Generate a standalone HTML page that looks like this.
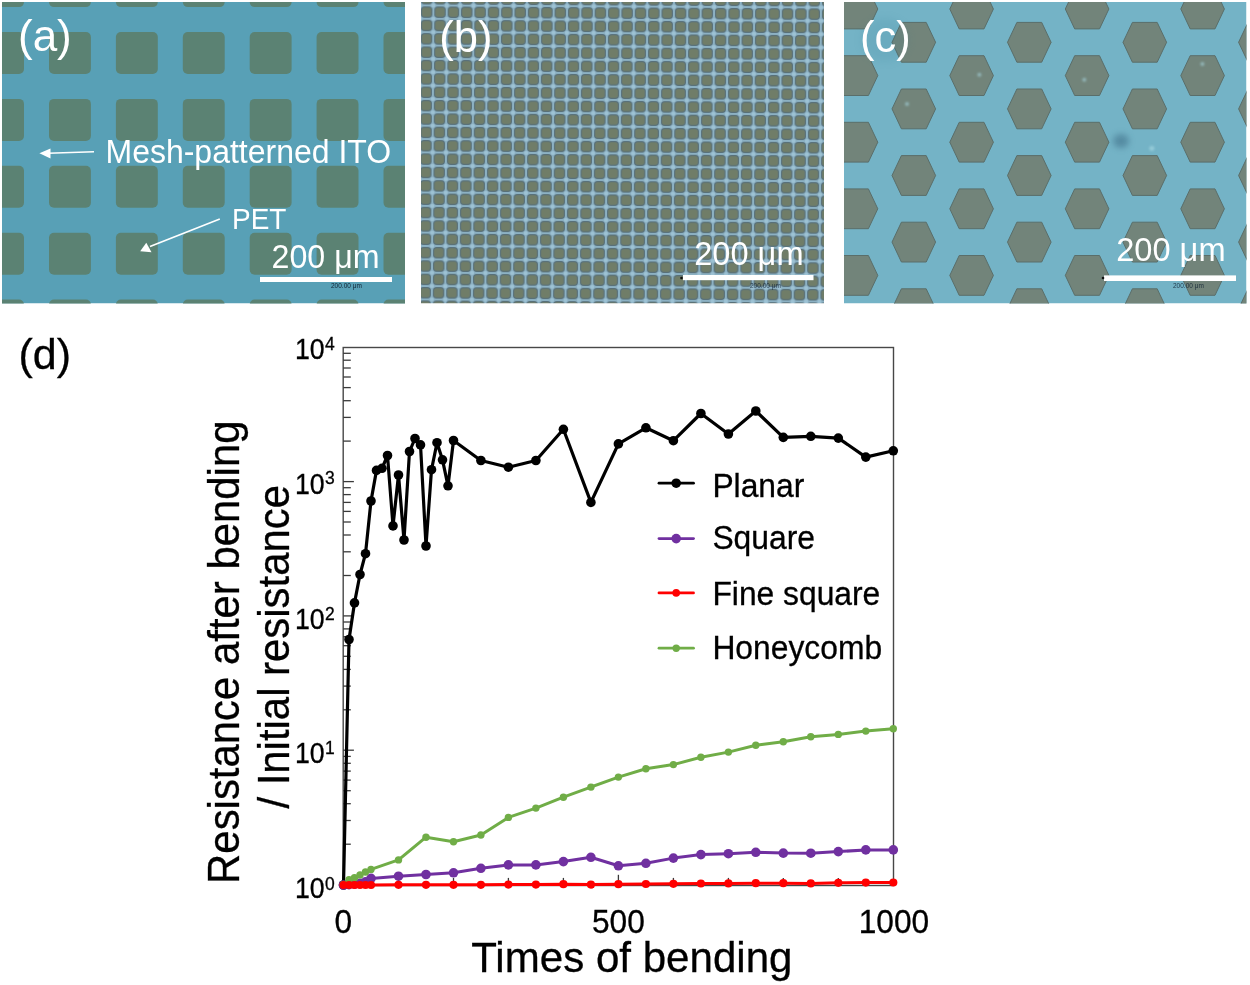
<!DOCTYPE html>
<html><head><meta charset="utf-8"><style>
html,body{margin:0;padding:0;background:#fff;}
svg{display:block;will-change:transform;font-family:"Liberation Sans",sans-serif;}
</style></head><body>
<svg width="1250" height="985" viewBox="0 0 1250 985">
<defs>
<clipPath id="ca"><rect x="2" y="2" width="403" height="301.5"/></clipPath>
<clipPath id="cb"><rect x="421" y="2" width="403" height="301.5"/></clipPath>
<clipPath id="cc"><rect x="844" y="2" width="402.5" height="301.5"/></clipPath>
<pattern id="pb" x="0" y="0" width="13.365" height="13.365" patternUnits="userSpaceOnUse" patternTransform="translate(433.4 5.45) rotate(0.3)">
<rect width="13.365" height="13.365" fill="#8cb1c3"/>
<circle cx="0" cy="0" r="2.0" fill="#9dc2d4"/><circle cx="13.365" cy="0" r="2.0" fill="#9dc2d4"/><circle cx="0" cy="13.365" r="2.0" fill="#9dc2d4"/><circle cx="13.365" cy="13.365" r="2.0" fill="#9dc2d4"/>
<rect x="1.0" y="1.0" width="11.365" height="11.365" rx="3.6" fill="#587079"/>
<rect x="2.1" y="2.1" width="9.165" height="9.165" rx="2.6" fill="#707d68"/>
</pattern>
<filter id="bl" x="-50%" y="-50%" width="200%" height="200%"><feGaussianBlur stdDeviation="4"/></filter>
<filter id="bl2" x="-100%" y="-100%" width="300%" height="300%"><feGaussianBlur stdDeviation="3"/></filter><filter id="bl3" x="-100%" y="-100%" width="300%" height="300%"><feGaussianBlur stdDeviation="0.8"/></filter>
</defs>
<!-- panel a -->
<g clip-path="url(#ca)">
<rect x="2" y="2" width="403" height="301.5" fill="#58a0b6"/>
<g fill="#5b8273"><rect x="-17.9" y="-34.9" width="41.9" height="42" rx="5"/><rect x="-17.9" y="32.0" width="41.9" height="42" rx="5"/><rect x="-17.9" y="98.9" width="41.9" height="42" rx="5"/><rect x="-17.9" y="165.8" width="41.9" height="42" rx="5"/><rect x="-17.9" y="232.7" width="41.9" height="42" rx="5"/><rect x="-17.9" y="299.6" width="41.9" height="42" rx="5"/><rect x="49.0" y="-34.9" width="41.9" height="42" rx="5"/><rect x="49.0" y="32.0" width="41.9" height="42" rx="5"/><rect x="49.0" y="98.9" width="41.9" height="42" rx="5"/><rect x="49.0" y="165.8" width="41.9" height="42" rx="5"/><rect x="49.0" y="232.7" width="41.9" height="42" rx="5"/><rect x="49.0" y="299.6" width="41.9" height="42" rx="5"/><rect x="115.9" y="-34.9" width="41.9" height="42" rx="5"/><rect x="115.9" y="32.0" width="41.9" height="42" rx="5"/><rect x="115.9" y="98.9" width="41.9" height="42" rx="5"/><rect x="115.9" y="165.8" width="41.9" height="42" rx="5"/><rect x="115.9" y="232.7" width="41.9" height="42" rx="5"/><rect x="115.9" y="299.6" width="41.9" height="42" rx="5"/><rect x="182.8" y="-34.9" width="41.9" height="42" rx="5"/><rect x="182.8" y="32.0" width="41.9" height="42" rx="5"/><rect x="182.8" y="98.9" width="41.9" height="42" rx="5"/><rect x="182.8" y="165.8" width="41.9" height="42" rx="5"/><rect x="182.8" y="232.7" width="41.9" height="42" rx="5"/><rect x="182.8" y="299.6" width="41.9" height="42" rx="5"/><rect x="249.7" y="-34.9" width="41.9" height="42" rx="5"/><rect x="249.7" y="32.0" width="41.9" height="42" rx="5"/><rect x="249.7" y="98.9" width="41.9" height="42" rx="5"/><rect x="249.7" y="165.8" width="41.9" height="42" rx="5"/><rect x="249.7" y="232.7" width="41.9" height="42" rx="5"/><rect x="249.7" y="299.6" width="41.9" height="42" rx="5"/><rect x="316.6" y="-34.9" width="41.9" height="42" rx="5"/><rect x="316.6" y="32.0" width="41.9" height="42" rx="5"/><rect x="316.6" y="98.9" width="41.9" height="42" rx="5"/><rect x="316.6" y="165.8" width="41.9" height="42" rx="5"/><rect x="316.6" y="232.7" width="41.9" height="42" rx="5"/><rect x="316.6" y="299.6" width="41.9" height="42" rx="5"/><rect x="383.5" y="-34.9" width="41.9" height="42" rx="5"/><rect x="383.5" y="32.0" width="41.9" height="42" rx="5"/><rect x="383.5" y="98.9" width="41.9" height="42" rx="5"/><rect x="383.5" y="165.8" width="41.9" height="42" rx="5"/><rect x="383.5" y="232.7" width="41.9" height="42" rx="5"/><rect x="383.5" y="299.6" width="41.9" height="42" rx="5"/></g>
<g fill="#fff">
<text transform="translate(18,51.2)" font-size="44">(a)</text>
<text transform="translate(105.5,162.6) scale(1,1.03)" font-size="32">Mesh-patterned ITO</text>
<text transform="translate(232,228.8) scale(1,1.03)" font-size="28">PET</text>
<text transform="translate(271.5,268) scale(1,1.03)" font-size="32.2">200 μm</text>
</g>
<line x1="94" y1="151.8" x2="48" y2="153.2" stroke="#fff" stroke-width="1.6"/>
<polygon points="39.4,153.3 50.5,148.6 50.5,158.6" fill="#fff"/>
<line x1="219.8" y1="219" x2="150" y2="246.5" stroke="#fff" stroke-width="1.6"/>
<polygon points="140.2,251.2 146.3,242.8 151.5,252.2" fill="#fff"/>
<rect x="260" y="277" width="132" height="5" fill="#fff"/>
<text x="331" y="288" font-size="6.5" fill="#123">200.00 μm</text>
</g>
<!-- panel b -->
<g clip-path="url(#cb)">
<rect x="421" y="2" width="403" height="301.5" fill="url(#pb)"/>
<g fill="#fff">
<text transform="translate(439.2,51.5)" font-size="43.5">(b)</text>
<text transform="translate(694.2,265.2) scale(1,1.03)" font-size="32.6">200 μm</text>
</g>
<rect x="683" y="275" width="130.5" height="5.2" fill="#fff"/>
<text x="750" y="287.5" font-size="6.5" fill="#123" opacity="0.8">200.00 μm</text><circle cx="681.5" cy="278" r="1.3" fill="#111"/>
</g>
<!-- panel c -->
<g clip-path="url(#cc)">
<rect x="844" y="2" width="402.5" height="301.5" fill="#74b3c6"/>
<g fill="#72847a" stroke="#5a6e6a" stroke-width="1" stroke-linejoin="round"><polygon points="834.2,9.0 843.6,-10.9 868.4,-10.9 877.8,9.0 868.4,28.9 843.6,28.9"/><polygon points="834.2,75.6 843.6,55.7 868.4,55.7 877.8,75.6 868.4,95.5 843.6,95.5"/><polygon points="834.2,142.2 843.6,122.3 868.4,122.3 877.8,142.2 868.4,162.1 843.6,162.1"/><polygon points="834.2,208.8 843.6,188.9 868.4,188.9 877.8,208.8 868.4,228.7 843.6,228.7"/><polygon points="834.2,275.4 843.6,255.5 868.4,255.5 877.8,275.4 868.4,295.3 843.6,295.3"/><polygon points="834.2,342.0 843.6,322.1 868.4,322.1 877.8,342.0 868.4,361.9 843.6,361.9"/><polygon points="892.0,-24.3 901.4,-44.2 926.2,-44.2 935.6,-24.3 926.2,-4.4 901.4,-4.4"/><polygon points="892.0,42.3 901.4,22.4 926.2,22.4 935.6,42.3 926.2,62.2 901.4,62.2"/><polygon points="892.0,108.9 901.4,89.0 926.2,89.0 935.6,108.9 926.2,128.8 901.4,128.8"/><polygon points="892.0,175.5 901.4,155.6 926.2,155.6 935.6,175.5 926.2,195.4 901.4,195.4"/><polygon points="892.0,242.1 901.4,222.2 926.2,222.2 935.6,242.1 926.2,262.0 901.4,262.0"/><polygon points="892.0,308.7 901.4,288.8 926.2,288.8 935.6,308.7 926.2,328.6 901.4,328.6"/><polygon points="949.8,9.0 959.2,-10.9 984.0,-10.9 993.4,9.0 984.0,28.9 959.2,28.9"/><polygon points="949.8,75.6 959.2,55.7 984.0,55.7 993.4,75.6 984.0,95.5 959.2,95.5"/><polygon points="949.8,142.2 959.2,122.3 984.0,122.3 993.4,142.2 984.0,162.1 959.2,162.1"/><polygon points="949.8,208.8 959.2,188.9 984.0,188.9 993.4,208.8 984.0,228.7 959.2,228.7"/><polygon points="949.8,275.4 959.2,255.5 984.0,255.5 993.4,275.4 984.0,295.3 959.2,295.3"/><polygon points="949.8,342.0 959.2,322.1 984.0,322.1 993.4,342.0 984.0,361.9 959.2,361.9"/><polygon points="1007.5,-24.3 1016.9,-44.2 1041.7,-44.2 1051.1,-24.3 1041.7,-4.4 1016.9,-4.4"/><polygon points="1007.5,42.3 1016.9,22.4 1041.7,22.4 1051.1,42.3 1041.7,62.2 1016.9,62.2"/><polygon points="1007.5,108.9 1016.9,89.0 1041.7,89.0 1051.1,108.9 1041.7,128.8 1016.9,128.8"/><polygon points="1007.5,175.5 1016.9,155.6 1041.7,155.6 1051.1,175.5 1041.7,195.4 1016.9,195.4"/><polygon points="1007.5,242.1 1016.9,222.2 1041.7,222.2 1051.1,242.1 1041.7,262.0 1016.9,262.0"/><polygon points="1007.5,308.7 1016.9,288.8 1041.7,288.8 1051.1,308.7 1041.7,328.6 1016.9,328.6"/><polygon points="1065.3,9.0 1074.7,-10.9 1099.5,-10.9 1108.9,9.0 1099.5,28.9 1074.7,28.9"/><polygon points="1065.3,75.6 1074.7,55.7 1099.5,55.7 1108.9,75.6 1099.5,95.5 1074.7,95.5"/><polygon points="1065.3,142.2 1074.7,122.3 1099.5,122.3 1108.9,142.2 1099.5,162.1 1074.7,162.1"/><polygon points="1065.3,208.8 1074.7,188.9 1099.5,188.9 1108.9,208.8 1099.5,228.7 1074.7,228.7"/><polygon points="1065.3,275.4 1074.7,255.5 1099.5,255.5 1108.9,275.4 1099.5,295.3 1074.7,295.3"/><polygon points="1065.3,342.0 1074.7,322.1 1099.5,322.1 1108.9,342.0 1099.5,361.9 1074.7,361.9"/><polygon points="1123.0,-24.3 1132.4,-44.2 1157.2,-44.2 1166.6,-24.3 1157.2,-4.4 1132.4,-4.4"/><polygon points="1123.0,42.3 1132.4,22.4 1157.2,22.4 1166.6,42.3 1157.2,62.2 1132.4,62.2"/><polygon points="1123.0,108.9 1132.4,89.0 1157.2,89.0 1166.6,108.9 1157.2,128.8 1132.4,128.8"/><polygon points="1123.0,175.5 1132.4,155.6 1157.2,155.6 1166.6,175.5 1157.2,195.4 1132.4,195.4"/><polygon points="1123.0,242.1 1132.4,222.2 1157.2,222.2 1166.6,242.1 1157.2,262.0 1132.4,262.0"/><polygon points="1123.0,308.7 1132.4,288.8 1157.2,288.8 1166.6,308.7 1157.2,328.6 1132.4,328.6"/><polygon points="1180.8,9.0 1190.2,-10.9 1215.0,-10.9 1224.4,9.0 1215.0,28.9 1190.2,28.9"/><polygon points="1180.8,75.6 1190.2,55.7 1215.0,55.7 1224.4,75.6 1215.0,95.5 1190.2,95.5"/><polygon points="1180.8,142.2 1190.2,122.3 1215.0,122.3 1224.4,142.2 1215.0,162.1 1190.2,162.1"/><polygon points="1180.8,208.8 1190.2,188.9 1215.0,188.9 1224.4,208.8 1215.0,228.7 1190.2,228.7"/><polygon points="1180.8,275.4 1190.2,255.5 1215.0,255.5 1224.4,275.4 1215.0,295.3 1190.2,295.3"/><polygon points="1180.8,342.0 1190.2,322.1 1215.0,322.1 1224.4,342.0 1215.0,361.9 1190.2,361.9"/><polygon points="1238.6,-24.3 1248.0,-44.2 1272.8,-44.2 1282.2,-24.3 1272.8,-4.4 1248.0,-4.4"/><polygon points="1238.6,42.3 1248.0,22.4 1272.8,22.4 1282.2,42.3 1272.8,62.2 1248.0,62.2"/><polygon points="1238.6,108.9 1248.0,89.0 1272.8,89.0 1282.2,108.9 1272.8,128.8 1248.0,128.8"/><polygon points="1238.6,175.5 1248.0,155.6 1272.8,155.6 1282.2,175.5 1272.8,195.4 1248.0,195.4"/><polygon points="1238.6,242.1 1248.0,222.2 1272.8,222.2 1282.2,242.1 1272.8,262.0 1248.0,262.0"/><polygon points="1238.6,308.7 1248.0,288.8 1272.8,288.8 1282.2,308.7 1272.8,328.6 1248.0,328.6"/></g>
<ellipse cx="885" cy="40" rx="24" ry="22" fill="#2f7890" opacity="0.12" filter="url(#bl)"/>
<ellipse cx="1121" cy="141" rx="8" ry="7" fill="#3a6a84" opacity="0.55" filter="url(#bl2)"/>
<g fill="#a8d8e2" opacity="0.6" filter="url(#bl3)"><circle cx="1151.8" cy="148.3" r="2.6"/><circle cx="907" cy="104" r="2"/><circle cx="979.4" cy="74.8" r="2"/><circle cx="1084.3" cy="79.7" r="2"/><circle cx="1202.4" cy="64" r="2"/></g>
<g fill="#fff">
<text transform="translate(860.1,51.6)" font-size="43.5">(c)</text>
<text transform="translate(1116.2,261.4) scale(1,1.03)" font-size="32.6">200 μm</text>
</g>
<rect x="1104" y="275.4" width="132" height="5.6" fill="#fff"/>
<text x="1173" y="287.5" font-size="6.5" fill="#123" opacity="0.85">200.00 μm</text><circle cx="1103" cy="278" r="1.3" fill="#111"/>
</g>
<!-- chart -->
<g fill="#000" stroke="#000" stroke-width="0.3">
<text transform="translate(18.5,369.3)" font-size="43">(d)</text>
<text transform="translate(324.6,358.5) scale(1,1.07)" font-size="26.7" text-anchor="end">10</text><text transform="translate(325.1,349.9) scale(1,1.08)" font-size="17.5">4</text><text transform="translate(324.6,493.5) scale(1,1.07)" font-size="26.7" text-anchor="end">10</text><text transform="translate(325.1,484.4) scale(1,1.08)" font-size="17.5">3</text><text transform="translate(324.6,628.5) scale(1,1.07)" font-size="26.7" text-anchor="end">10</text><text transform="translate(325.1,619.7) scale(1,1.08)" font-size="17.5">2</text><text transform="translate(324.6,763.0) scale(1,1.07)" font-size="26.7" text-anchor="end">10</text><text transform="translate(325.1,754.2) scale(1,1.08)" font-size="17.5">1</text><text transform="translate(324.6,898.0) scale(1,1.07)" font-size="26.7" text-anchor="end">10</text><text transform="translate(325.1,889.6) scale(1,1.08)" font-size="17.5">0</text>
<text transform="translate(343.3,932.7) scale(1,1.035)" font-size="31.7" text-anchor="middle">0</text><text transform="translate(618.4,932.7) scale(1,1.035)" font-size="31.7" text-anchor="middle">500</text><text transform="translate(894.0,932.7) scale(1,1.035)" font-size="31.7" text-anchor="middle">1000</text>
<text transform="translate(471.2,972.1) scale(1,1.03)" font-size="42.1">Times of bending</text>
<text transform="translate(239.2,883.9) rotate(-90) scale(1,1.04)" font-size="41.9">Resistance after bending</text>
<text transform="translate(289.3,808.6) rotate(-90) scale(1,1.04)" font-size="41.9">/ Initial resistance</text>
<text transform="translate(712.4,496.8) scale(1,1.04)" font-size="31.8">Planar</text><text transform="translate(712.4,548.7) scale(1,1.04)" font-size="31.8">Square</text><text transform="translate(712.4,604.8) scale(1,1.04)" font-size="31.8">Fine square</text><text transform="translate(712.4,658.8) scale(1,1.04)" font-size="31.8">Honeycomb</text>
</g>
<rect x="343.2" y="347.5" width="550.3" height="538" fill="none" stroke="#474747" stroke-width="1.4"/>
<g stroke="#3a3a3a" stroke-width="1.3"><line x1="343.2" y1="884.6" x2="353.9" y2="884.6"/><line x1="343.2" y1="844.2" x2="350.8" y2="844.2"/><line x1="343.2" y1="820.5" x2="350.8" y2="820.5"/><line x1="343.2" y1="803.7" x2="350.8" y2="803.7"/><line x1="343.2" y1="790.7" x2="350.8" y2="790.7"/><line x1="343.2" y1="780.1" x2="350.8" y2="780.1"/><line x1="343.2" y1="771.1" x2="350.8" y2="771.1"/><line x1="343.2" y1="763.3" x2="350.8" y2="763.3"/><line x1="343.2" y1="756.4" x2="350.8" y2="756.4"/><line x1="343.2" y1="750.2" x2="353.9" y2="750.2"/><line x1="343.2" y1="709.8" x2="350.8" y2="709.8"/><line x1="343.2" y1="686.1" x2="350.8" y2="686.1"/><line x1="343.2" y1="669.4" x2="350.8" y2="669.4"/><line x1="343.2" y1="656.3" x2="350.8" y2="656.3"/><line x1="343.2" y1="645.7" x2="350.8" y2="645.7"/><line x1="343.2" y1="636.7" x2="350.8" y2="636.7"/><line x1="343.2" y1="628.9" x2="350.8" y2="628.9"/><line x1="343.2" y1="622.0" x2="350.8" y2="622.0"/><line x1="343.2" y1="615.9" x2="353.9" y2="615.9"/><line x1="343.2" y1="575.5" x2="350.8" y2="575.5"/><line x1="343.2" y1="551.8" x2="350.8" y2="551.8"/><line x1="343.2" y1="535.0" x2="350.8" y2="535.0"/><line x1="343.2" y1="522.0" x2="350.8" y2="522.0"/><line x1="343.2" y1="511.4" x2="350.8" y2="511.4"/><line x1="343.2" y1="502.4" x2="350.8" y2="502.4"/><line x1="343.2" y1="494.6" x2="350.8" y2="494.6"/><line x1="343.2" y1="487.7" x2="350.8" y2="487.7"/><line x1="343.2" y1="481.6" x2="353.9" y2="481.6"/><line x1="343.2" y1="441.1" x2="350.8" y2="441.1"/><line x1="343.2" y1="417.4" x2="350.8" y2="417.4"/><line x1="343.2" y1="400.7" x2="350.8" y2="400.7"/><line x1="343.2" y1="387.6" x2="350.8" y2="387.6"/><line x1="343.2" y1="377.0" x2="350.8" y2="377.0"/><line x1="343.2" y1="368.0" x2="350.8" y2="368.0"/><line x1="343.2" y1="360.2" x2="350.8" y2="360.2"/><line x1="343.2" y1="353.3" x2="350.8" y2="353.3"/><line x1="398.5" y1="885.5" x2="398.5" y2="877.9"/><line x1="453.5" y1="885.5" x2="453.5" y2="877.9"/><line x1="508.4" y1="885.5" x2="508.4" y2="877.9"/><line x1="563.4" y1="885.5" x2="563.4" y2="877.9"/><line x1="618.4" y1="885.5" x2="618.4" y2="874.8"/><line x1="673.4" y1="885.5" x2="673.4" y2="877.9"/><line x1="728.4" y1="885.5" x2="728.4" y2="877.9"/><line x1="783.3" y1="885.5" x2="783.3" y2="877.9"/><line x1="838.3" y1="885.5" x2="838.3" y2="877.9"/></g>
<polyline points="343.5,885.0 349.0,639.5 354.5,602.9 360.0,574.5 365.5,553.7 371.0,501.0 376.5,470.4 382.0,468.3 387.5,455.5 393.0,525.9 398.5,475.0 404.0,540.0 409.5,451.5 415.0,438.5 420.5,444.9 426.0,546.0 431.5,469.7 437.0,442.7 442.5,459.8 448.0,485.8 453.5,440.5 480.9,460.5 508.4,467.2 535.9,460.5 563.4,429.3 590.9,502.4 618.4,443.9 645.9,427.8 673.4,440.7 700.9,413.5 728.4,434.0 755.8,411.0 783.3,437.4 810.8,436.3 838.3,438.1 865.8,457.1 893.3,450.8" fill="none" stroke="#000" stroke-width="3.2" stroke-linejoin="round"/>
<circle cx="343.5" cy="885.0" r="4.8" fill="#000"/><circle cx="349.0" cy="639.5" r="4.8" fill="#000"/><circle cx="354.5" cy="602.9" r="4.8" fill="#000"/><circle cx="360.0" cy="574.5" r="4.8" fill="#000"/><circle cx="365.5" cy="553.7" r="4.8" fill="#000"/><circle cx="371.0" cy="501.0" r="4.8" fill="#000"/><circle cx="376.5" cy="470.4" r="4.8" fill="#000"/><circle cx="382.0" cy="468.3" r="4.8" fill="#000"/><circle cx="387.5" cy="455.5" r="4.8" fill="#000"/><circle cx="393.0" cy="525.9" r="4.8" fill="#000"/><circle cx="398.5" cy="475.0" r="4.8" fill="#000"/><circle cx="404.0" cy="540.0" r="4.8" fill="#000"/><circle cx="409.5" cy="451.5" r="4.8" fill="#000"/><circle cx="415.0" cy="438.5" r="4.8" fill="#000"/><circle cx="420.5" cy="444.9" r="4.8" fill="#000"/><circle cx="426.0" cy="546.0" r="4.8" fill="#000"/><circle cx="431.5" cy="469.7" r="4.8" fill="#000"/><circle cx="437.0" cy="442.7" r="4.8" fill="#000"/><circle cx="442.5" cy="459.8" r="4.8" fill="#000"/><circle cx="448.0" cy="485.8" r="4.8" fill="#000"/><circle cx="453.5" cy="440.5" r="4.8" fill="#000"/><circle cx="480.9" cy="460.5" r="4.8" fill="#000"/><circle cx="508.4" cy="467.2" r="4.8" fill="#000"/><circle cx="535.9" cy="460.5" r="4.8" fill="#000"/><circle cx="563.4" cy="429.3" r="4.8" fill="#000"/><circle cx="590.9" cy="502.4" r="4.8" fill="#000"/><circle cx="618.4" cy="443.9" r="4.8" fill="#000"/><circle cx="645.9" cy="427.8" r="4.8" fill="#000"/><circle cx="673.4" cy="440.7" r="4.8" fill="#000"/><circle cx="700.9" cy="413.5" r="4.8" fill="#000"/><circle cx="728.4" cy="434.0" r="4.8" fill="#000"/><circle cx="755.8" cy="411.0" r="4.8" fill="#000"/><circle cx="783.3" cy="437.4" r="4.8" fill="#000"/><circle cx="810.8" cy="436.3" r="4.8" fill="#000"/><circle cx="838.3" cy="438.1" r="4.8" fill="#000"/><circle cx="865.8" cy="457.1" r="4.8" fill="#000"/><circle cx="893.3" cy="450.8" r="4.8" fill="#000"/>

<polyline points="343.5,885.0 349.0,884.6 354.5,884.2 360.0,883.4 365.5,881.8 371.0,878.4 398.5,876.2 426.0,874.5 453.5,872.8 480.9,868.3 508.4,864.9 535.9,864.9 563.4,861.6 590.9,857.3 618.4,865.8 645.9,863.3 673.4,858.1 700.9,854.6 728.4,853.7 755.8,852.3 783.3,853.1 810.8,853.2 838.3,851.6 865.8,849.9 893.3,849.9" fill="none" stroke="#7030a0" stroke-width="3" stroke-linejoin="round"/>
<circle cx="343.5" cy="885.0" r="4.8" fill="#7030a0"/><circle cx="349.0" cy="884.6" r="4.8" fill="#7030a0"/><circle cx="354.5" cy="884.2" r="4.8" fill="#7030a0"/><circle cx="360.0" cy="883.4" r="4.8" fill="#7030a0"/><circle cx="365.5" cy="881.8" r="4.8" fill="#7030a0"/><circle cx="371.0" cy="878.4" r="4.8" fill="#7030a0"/><circle cx="398.5" cy="876.2" r="4.8" fill="#7030a0"/><circle cx="426.0" cy="874.5" r="4.8" fill="#7030a0"/><circle cx="453.5" cy="872.8" r="4.8" fill="#7030a0"/><circle cx="480.9" cy="868.3" r="4.8" fill="#7030a0"/><circle cx="508.4" cy="864.9" r="4.8" fill="#7030a0"/><circle cx="535.9" cy="864.9" r="4.8" fill="#7030a0"/><circle cx="563.4" cy="861.6" r="4.8" fill="#7030a0"/><circle cx="590.9" cy="857.3" r="4.8" fill="#7030a0"/><circle cx="618.4" cy="865.8" r="4.8" fill="#7030a0"/><circle cx="645.9" cy="863.3" r="4.8" fill="#7030a0"/><circle cx="673.4" cy="858.1" r="4.8" fill="#7030a0"/><circle cx="700.9" cy="854.6" r="4.8" fill="#7030a0"/><circle cx="728.4" cy="853.7" r="4.8" fill="#7030a0"/><circle cx="755.8" cy="852.3" r="4.8" fill="#7030a0"/><circle cx="783.3" cy="853.1" r="4.8" fill="#7030a0"/><circle cx="810.8" cy="853.2" r="4.8" fill="#7030a0"/><circle cx="838.3" cy="851.6" r="4.8" fill="#7030a0"/><circle cx="865.8" cy="849.9" r="4.8" fill="#7030a0"/><circle cx="893.3" cy="849.9" r="4.8" fill="#7030a0"/>

<polyline points="343.5,884.5 349.0,879.7 354.5,877.8 360.0,874.9 365.5,872.0 371.0,869.4 398.5,859.9 426.0,837.2 453.5,841.7 480.9,835.0 508.4,817.4 535.9,808.1 563.4,797.2 590.9,787.1 618.4,777.1 645.9,768.8 673.4,764.6 700.9,757.3 728.4,752.1 755.8,745.3 783.3,741.7 810.8,736.8 838.3,734.4 865.8,731.1 893.3,728.7" fill="none" stroke="#70ad47" stroke-width="3" stroke-linejoin="round"/>
<circle cx="343.5" cy="884.5" r="3.7" fill="#70ad47"/><circle cx="349.0" cy="879.7" r="3.7" fill="#70ad47"/><circle cx="354.5" cy="877.8" r="3.7" fill="#70ad47"/><circle cx="360.0" cy="874.9" r="3.7" fill="#70ad47"/><circle cx="365.5" cy="872.0" r="3.7" fill="#70ad47"/><circle cx="371.0" cy="869.4" r="3.7" fill="#70ad47"/><circle cx="398.5" cy="859.9" r="3.7" fill="#70ad47"/><circle cx="426.0" cy="837.2" r="3.7" fill="#70ad47"/><circle cx="453.5" cy="841.7" r="3.7" fill="#70ad47"/><circle cx="480.9" cy="835.0" r="3.7" fill="#70ad47"/><circle cx="508.4" cy="817.4" r="3.7" fill="#70ad47"/><circle cx="535.9" cy="808.1" r="3.7" fill="#70ad47"/><circle cx="563.4" cy="797.2" r="3.7" fill="#70ad47"/><circle cx="590.9" cy="787.1" r="3.7" fill="#70ad47"/><circle cx="618.4" cy="777.1" r="3.7" fill="#70ad47"/><circle cx="645.9" cy="768.8" r="3.7" fill="#70ad47"/><circle cx="673.4" cy="764.6" r="3.7" fill="#70ad47"/><circle cx="700.9" cy="757.3" r="3.7" fill="#70ad47"/><circle cx="728.4" cy="752.1" r="3.7" fill="#70ad47"/><circle cx="755.8" cy="745.3" r="3.7" fill="#70ad47"/><circle cx="783.3" cy="741.7" r="3.7" fill="#70ad47"/><circle cx="810.8" cy="736.8" r="3.7" fill="#70ad47"/><circle cx="838.3" cy="734.4" r="3.7" fill="#70ad47"/><circle cx="865.8" cy="731.1" r="3.7" fill="#70ad47"/><circle cx="893.3" cy="728.7" r="3.7" fill="#70ad47"/>

<polyline points="343.5,885.0 349.0,885.0 354.5,885.0 360.0,885.0 365.5,885.0 371.0,885.0 398.5,884.8 426.0,884.8 453.5,884.8 480.9,884.8 508.4,884.6 535.9,884.6 563.4,884.2 590.9,884.6 618.4,884.2 645.9,884.0 673.4,883.8 700.9,883.5 728.4,883.4 755.8,883.2 783.3,883.2 810.8,883.4 838.3,882.8 865.8,882.6 893.3,882.5" fill="none" stroke="#ff0000" stroke-width="3" stroke-linejoin="round"/>
<circle cx="343.5" cy="885.0" r="4.1" fill="#ff0000"/><circle cx="349.0" cy="885.0" r="4.1" fill="#ff0000"/><circle cx="354.5" cy="885.0" r="4.1" fill="#ff0000"/><circle cx="360.0" cy="885.0" r="4.1" fill="#ff0000"/><circle cx="365.5" cy="885.0" r="4.1" fill="#ff0000"/><circle cx="371.0" cy="885.0" r="4.1" fill="#ff0000"/><circle cx="398.5" cy="884.8" r="4.1" fill="#ff0000"/><circle cx="426.0" cy="884.8" r="4.1" fill="#ff0000"/><circle cx="453.5" cy="884.8" r="4.1" fill="#ff0000"/><circle cx="480.9" cy="884.8" r="4.1" fill="#ff0000"/><circle cx="508.4" cy="884.6" r="4.1" fill="#ff0000"/><circle cx="535.9" cy="884.6" r="4.1" fill="#ff0000"/><circle cx="563.4" cy="884.2" r="4.1" fill="#ff0000"/><circle cx="590.9" cy="884.6" r="4.1" fill="#ff0000"/><circle cx="618.4" cy="884.2" r="4.1" fill="#ff0000"/><circle cx="645.9" cy="884.0" r="4.1" fill="#ff0000"/><circle cx="673.4" cy="883.8" r="4.1" fill="#ff0000"/><circle cx="700.9" cy="883.5" r="4.1" fill="#ff0000"/><circle cx="728.4" cy="883.4" r="4.1" fill="#ff0000"/><circle cx="755.8" cy="883.2" r="4.1" fill="#ff0000"/><circle cx="783.3" cy="883.2" r="4.1" fill="#ff0000"/><circle cx="810.8" cy="883.4" r="4.1" fill="#ff0000"/><circle cx="838.3" cy="882.8" r="4.1" fill="#ff0000"/><circle cx="865.8" cy="882.6" r="4.1" fill="#ff0000"/><circle cx="893.3" cy="882.5" r="4.1" fill="#ff0000"/>

<line x1="659" y1="483.2" x2="693.5" y2="483.2" stroke="#000" stroke-width="2.8" stroke-linecap="round"/><circle cx="676.2" cy="483.2" r="4.8" fill="#000"/><line x1="659" y1="538.6" x2="693.5" y2="538.6" stroke="#7030a0" stroke-width="2.8" stroke-linecap="round"/><circle cx="676.2" cy="538.6" r="4.8" fill="#7030a0"/><line x1="659" y1="592.9" x2="693.5" y2="592.9" stroke="#ff0000" stroke-width="2.8" stroke-linecap="round"/><circle cx="676.2" cy="592.9" r="3.8" fill="#ff0000"/><line x1="659" y1="648.2" x2="693.5" y2="648.2" stroke="#70ad47" stroke-width="2.8" stroke-linecap="round"/><circle cx="676.2" cy="648.2" r="3.7" fill="#70ad47"/>
</svg>
</body></html>
